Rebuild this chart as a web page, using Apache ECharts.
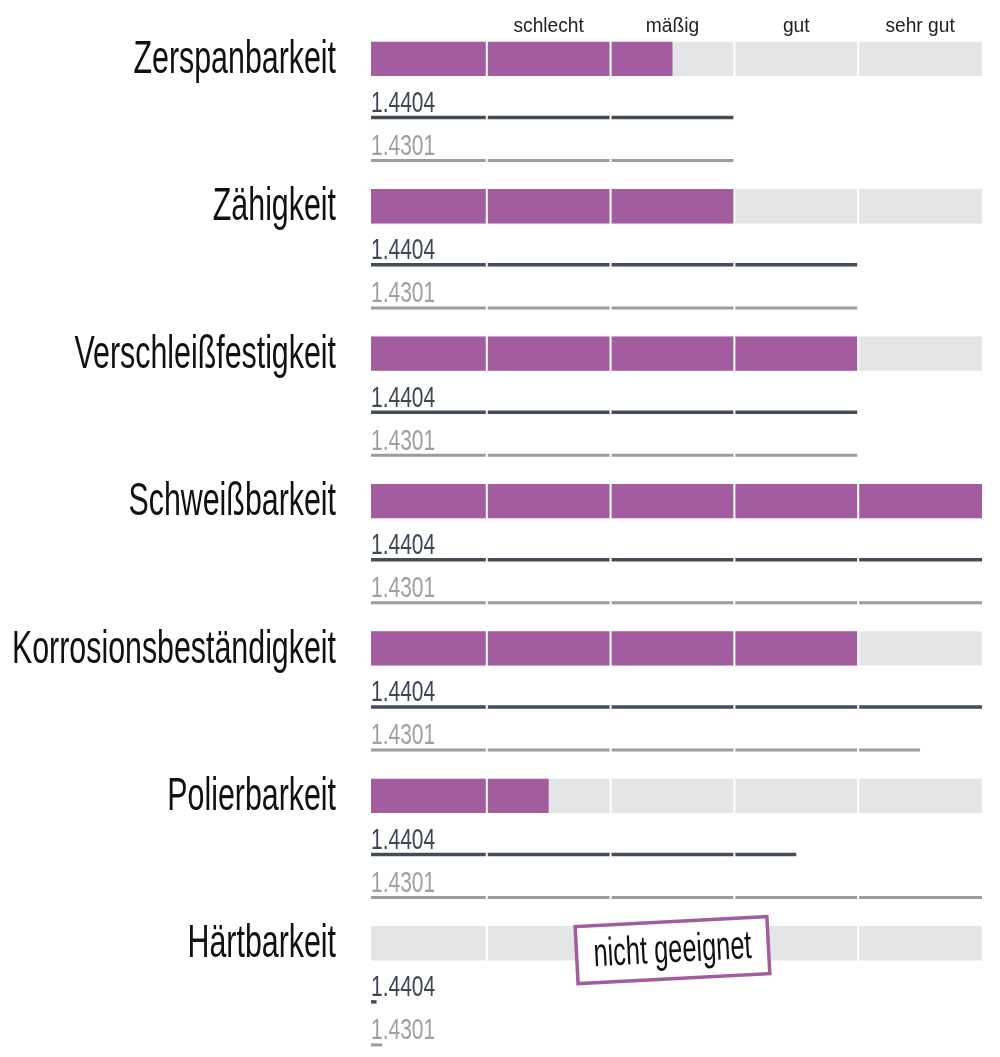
<!DOCTYPE html>
<html>
<head>
<meta charset="utf-8">
<script src="https://cdn.jsdelivr.net/npm/echarts@6/dist/echarts.min.js"></script>
<style>
html,body{margin:0;padding:0;background:#fff;}
#chart{width:1000px;height:1057px;}
</style>
</head>
<body>
<div id="chart"></div>
<script>
// ---- data ----
const categories = ['Zerspanbarkeit','Zähigkeit','Verschleißfestigkeit','Schweißbarkeit','Korrosionsbeständigkeit','Polierbarkeit','Härtbarkeit'];
const ratingValues = [2.5, 3, 4, 5, 4, 1.5, 0];
const steelA = '1.4404';
const steelAValues = [3, 4, 4, 5, 5, 3.5, 0.11];
const steelB = '1.4301';
const steelBValues = [3, 4, 4, 5, 4.5, 5, 0.155];
const scaleLabels = ['schlecht', 'mäßig', 'gut', 'sehr gut'];
const scaleLabelPos = [1.5, 2.5, 3.5, 4.5];
const scaleDividers = [1, 2, 3, 4];
const scaleMin = 0.065;
const scaleMax = 5;
const notes = ['', '', '', '', '', '', 'nicht geeignet'];
const notePos = 2.5;

// ---- layout / style ----
const FONT = '"Liberation Sans", Arial, sans-serif';
const GROUP_PX = 147.4, GRID_TOP = 41.7, H = 1057;
const BAR_H = 0.2327, LINE_A = 0.514, LINE_B = 0.806, NOTE_Y = 0.163;
const PURPLE = '#a25c9f', TRACK = '#e4e5e7', DARK = '#454d59', DARK_TXT = '#3e4755', GREY = '#9c9c9c', GREY_TXT = '#a0a0a0';

const rows = categories.map((c, i) => [i, ratingValues[i], steelAValues[i], steelBValues[i]]);

function renderRow(params, api) {
  const i = api.value(0), r = api.value(1), a = api.value(2), b = api.value(3);
  const p0 = api.coord([scaleMin, i]);
  const xEnd = api.coord([scaleMax, i])[0];
  const barBottom = api.coord([scaleMin, i + BAR_H])[1];
  const yA = api.coord([scaleMin, i + LINE_A])[1];
  const yB = api.coord([scaleMin, i + LINE_B])[1];
  const ch = [];
  ch.push({type:'rect', shape:{x:p0[0], y:p0[1], width:xEnd - p0[0], height:barBottom - p0[1]}, style:{fill:TRACK}});
  if (r > scaleMin) {
    ch.push({type:'rect', shape:{x:p0[0], y:p0[1], width:api.coord([r, i])[0] - p0[0], height:barBottom - p0[1]}, style:{fill:PURPLE}});
  }
  ch.push({type:'rect', shape:{x:p0[0], y:yA - 1.75, width:api.coord([a, i])[0] - p0[0], height:3.5}, style:{fill:DARK}});
  ch.push({type:'rect', shape:{x:p0[0], y:yB - 1.5, width:api.coord([b, i])[0] - p0[0], height:3}, style:{fill:GREY}});
  scaleDividers.forEach(d => {
    const xd = api.coord([d, i])[0];
    ch.push({type:'rect', shape:{x:xd - 1, y:p0[1] - 1, width:2, height:yB + 3 - p0[1]}, style:{fill:'#fff'}});
  });
  ch.push({type:'text', x:p0[0] - 35, y:(p0[1] + barBottom) / 2 + 1.5, scaleX:0.66,
    style:{text:categories[i], font:'46px ' + FONT, fill:'#111', align:'right', verticalAlign:'middle'}});
  ch.push({type:'text', x:p0[0], y:yA - 14, scaleX:0.7,
    style:{text:steelA, font:'30px ' + FONT, fill:DARK_TXT, align:'left', verticalAlign:'middle'}});
  ch.push({type:'text', x:p0[0], y:yB - 14, scaleX:0.7,
    style:{text:steelB, font:'30px ' + FONT, fill:GREY_TXT, align:'left', verticalAlign:'middle'}});
  if (notes[i]) {
    const pn = api.coord([notePos, i + NOTE_Y]);
    ch.push({type:'group', x:pn[0], y:pn[1], rotation:3 * Math.PI / 180, children:[
      {type:'rect', shape:{x:-96, y:-28.5, width:192, height:57}, style:{fill:'#fff', stroke:PURPLE, lineWidth:3.5}},
      {type:'text', x:0, y:1, scaleX:0.635, style:{text:notes[i], font:'40px ' + FONT, fill:'#111', align:'center', verticalAlign:'middle'}}
    ]});
  }
  return {type:'group', children:ch};
}

function renderHeader(params, api) {
  const p = api.coord([api.value(0), 0]);
  return {type:'text', x:p[0], y:p[1] - 15, scaleX:0.96,
    style:{text:scaleLabels[params.dataIndex], font:'20px ' + FONT, fill:'#222', align:'center', verticalAlign:'middle'}};
}

const chart = echarts.init(document.getElementById('chart'), null, {renderer:'canvas'});
chart.setOption({
  animation:false,
  grid:{left:371, top:GRID_TOP, width:611, bottom:0, containLabel:false},
  xAxis:{type:'value', min:scaleMin, max:scaleMax, show:false},
  yAxis:{type:'value', min:0, max:(H - GRID_TOP) / GROUP_PX, inverse:true, show:false},
  series:[
    {type:'custom', renderItem:renderRow, data:rows, clip:false},
    {type:'custom', renderItem:renderHeader, data:scaleLabelPos.map(v => [v, 0]), clip:false}
  ]
});
</script>
</body>
</html>
